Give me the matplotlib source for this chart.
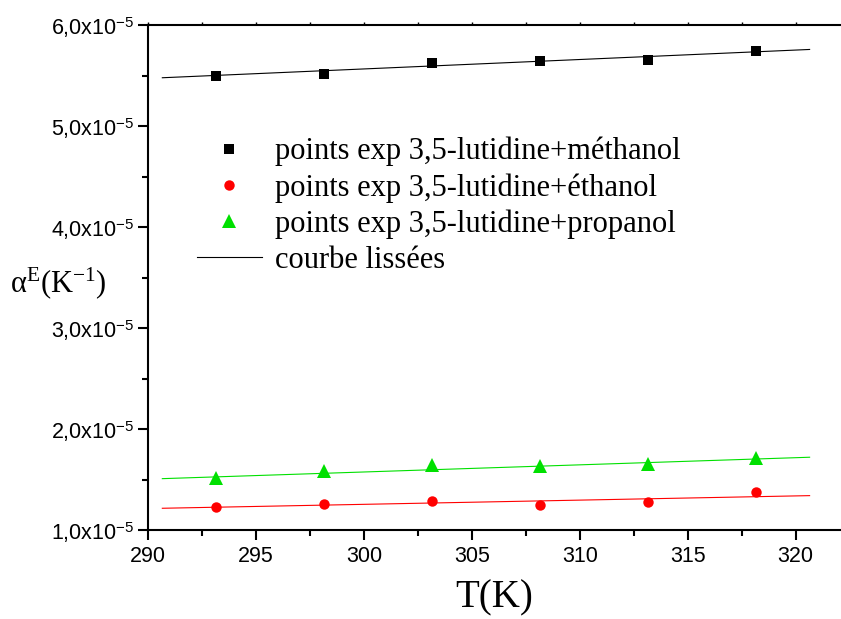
import numpy as np
import matplotlib
matplotlib.use("Agg")
import matplotlib.pyplot as plt
from matplotlib.ticker import MultipleLocator, FuncFormatter
from matplotlib.lines import Line2D

# Données
T = [293.15, 298.15, 303.15, 308.15, 313.15, 318.15]
alpha_meth = [5.50, 5.516, 5.624, 5.641, 5.654, 5.745]   # x1e-5
alpha_eth = [1.228, 1.263, 1.290, 1.252, 1.280, 1.376]
alpha_prop = [1.520, 1.582, 1.646, 1.641, 1.656, 1.719]

# Courbes lissées (extrémités)
T_fit = [290.65, 320.65]
fit_meth = [5.478, 5.758]
fit_eth = [1.218, 1.343]
fit_prop = [1.511, 1.723]

labels = ["points exp 3,5-lutidine+méthanol",
          "points exp 3,5-lutidine+éthanol",
          "points exp 3,5-lutidine+propanol",
          "courbe lissées"]

VERT = "#00e000"
ROUGE = "#ff0000"

plt.rcParams["font.family"] = ["Liberation Sans", "DejaVu Sans"]
plt.rcParams["mathtext.fontset"] = "custom"
plt.rcParams["mathtext.rm"] = "Liberation Serif"
plt.rcParams["mathtext.it"] = "Liberation Serif:italic"

W, H = 841, 619
fig = plt.figure(figsize=(W / 100, H / 100), dpi=100)
x0, x1 = 148.3, 841
y_top, y_bot = 25, 530.3
ax = fig.add_axes([x0 / W, 1 - y_bot / H, (x1 - x0) / W, (y_bot - y_top) / H])

e = 1e-5
ax.plot(T_fit, np.array(fit_meth) * e, color="black", lw=0.8)
ax.plot(T_fit, np.array(fit_eth) * e, color=ROUGE, lw=0.8)
ax.plot(T_fit, np.array(fit_prop) * e, color=VERT, lw=0.8)

ax.plot(T, np.array(alpha_meth) * e, "s", color="black", ms=7.5, mew=0)
ax.plot(T, np.array(alpha_eth) * e, "o", color=ROUGE, ms=7.5, mew=0)
ax.plot(T, np.array(alpha_prop) * e, "^", color=VERT, ms=9.5, mew=0)

px_per_K = (755.7 - 216.3) / 25.0
ax.set_xlim(290, 290 + (x1 - x0) / px_per_K)
ax.set_ylim(1e-5, 6e-5)

ax.xaxis.set_major_locator(MultipleLocator(5))
ax.xaxis.set_minor_locator(MultipleLocator(2.5))
ax.yaxis.set_major_locator(MultipleLocator(1e-5))
ax.yaxis.set_minor_locator(MultipleLocator(0.5e-5))


def fmt_y(v, pos):
    return f"{v / 1e-5:.1f}".replace(".", ",") + "x10$^{\\mathregular{-5}}$"


ax.yaxis.set_major_formatter(FuncFormatter(fmt_y))

for s in ["left", "bottom", "top"]:
    ax.spines[s].set_linewidth(1.5)
ax.spines["right"].set_visible(False)

ax.tick_params(which="major", direction="out", length=7, width=1.5,
               labelsize=15.5, pad=3)
ax.tick_params(axis="x", which="major", pad=4)
ax.tick_params(which="minor", direction="out", length=4, width=1.5)
ax.tick_params(axis="x", which="both", top=True, labeltop=False)
# petits traits sur l'axe du haut
for t in ax.xaxis.get_major_ticks() + ax.xaxis.get_minor_ticks():
    t.tick2line.set_markersize(2)
    t.tick2line.set_markeredgewidth(1)

ax.set_xlabel("T(K)", family="Liberation Serif", fontsize=28, labelpad=9)
ax.set_ylabel(r"$\mathregular{\alpha^E(K^{-1})}$", family="Liberation Serif",
              fontsize=22, rotation=0, ha="center", va="center")
ax.yaxis.set_label_coords((58 - x0) / (x1 - x0), (y_bot - 283) / (y_bot - y_top))

handles = [
    Line2D([], [], ls="none", marker="s", color="black", ms=7.5, mew=0),
    Line2D([], [], ls="none", marker="o", color=ROUGE, ms=7.5, mew=0),
    Line2D([], [], ls="none", marker="^", color=VERT, ms=9.5, mew=0),
    Line2D([], [], color="black", lw=0.8),
]
ax.legend(handles, labels, loc="upper left", frameon=False,
          bbox_to_anchor=(197 / W, 1 - 137 / H), bbox_transform=fig.transFigure,
          prop={"family": "Liberation Serif", "size": 22},
          handlelength=2.12, handletextpad=0.42, labelspacing=0.22,
          borderpad=0, borderaxespad=0)

fig.savefig("out.png", dpi=100)
